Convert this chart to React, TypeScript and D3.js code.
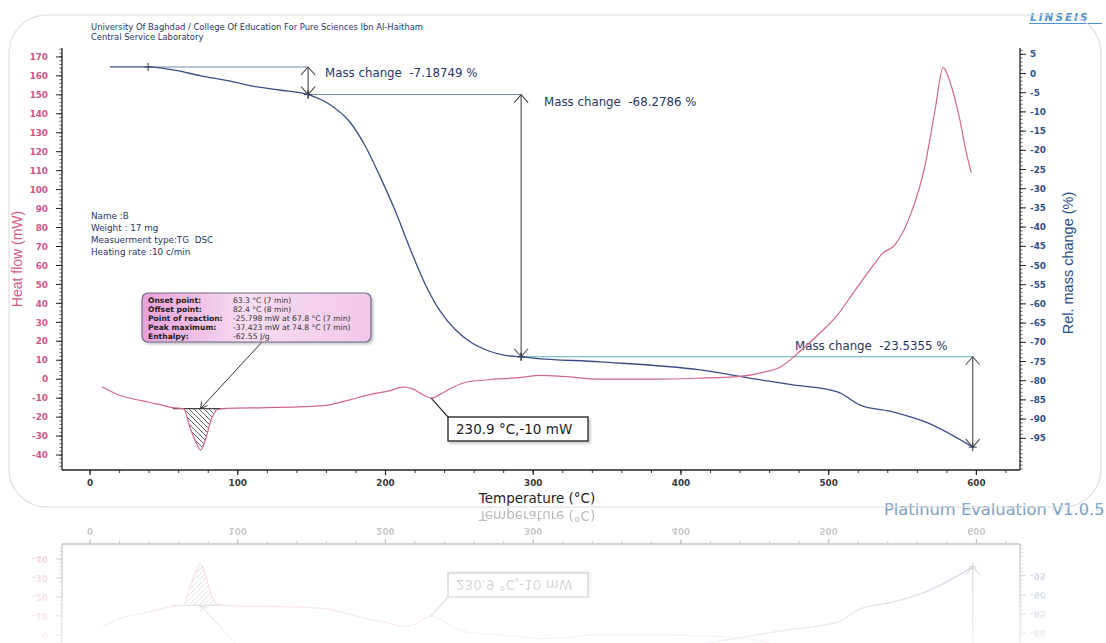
import React from "react";
import * as d3 from "d3";

const W = 1106;
const H = 643;

// DSC heat flow curve: temperature (°C) and heat flow (mW)
const dscTemp = [8, 20, 34, 45, 56, 63.3, 67.8, 71.5, 74.8, 78, 82.4, 86.5, 92, 120, 145, 160, 175, 190, 203, 212, 218, 224, 230.9, 237, 245, 255, 270, 290, 305, 320, 345, 380, 410, 440, 455, 467, 481, 495, 505, 518, 531, 536, 545, 555, 565, 572, 577.5, 582, 589, 593, 596.5];
const dscHeat = [-4, -8.5, -11.2, -13, -15, -15.6, -25.8, -33, -37.4, -32, -20.5, -16, -15.4, -15, -14.5, -13.8, -11, -8, -6, -4.2, -5, -7.5, -10, -8, -4.5, -1.5, -0.3, 0.8, 2, 1.5, 0, 0, 0.5, 1.5, 3.5, 6.3, 15, 25, 33, 47, 61, 66, 71, 86, 112, 142, 164.5, 157, 136, 120, 109];

// TG curve: temperature (°C) and relative mass change (%)
const tgTemp = [13.5, 39.3, 55, 75, 95, 110, 128, 147.6, 162, 176, 186, 196, 206.5, 216.7, 226.8, 237, 247, 257, 271, 281, 291.8, 300, 345, 413, 454, 476, 506, 521, 544, 567, 597.5];
const tgMass = [1.7, 1.7, 1.0, -0.6, -2, -3.3, -4.3, -5.49, -8, -12.7, -18.7, -26.6, -35.7, -45.7, -54.8, -61.9, -66.6, -69.8, -72.4, -73.4, -73.77, -74.1, -75.1, -77.2, -79.8, -81.1, -82.9, -86.3, -88.2, -91, -97.3];

// Mass-loss steps read by the evaluation software
const stepStart = 1.7;
const stepTemps = [39.3, 147.6, 291.8, 597.5];
const stepChanges = [-7.18749, -68.2786, -23.5355];
const stepLabels = ["Mass change  -7.18749 %", "Mass change  -68.2786 %", "Mass change  -23.5355 %"];

// Axis ticks
const tempTicks = [0, 100, 200, 300, 400, 500, 600];
const heatTicks = [-40, -30, -20, -10, 0, 10, 20, 30, 40, 50, 60, 70, 80, 90, 100, 110, 120, 130, 140, 150, 160, 170];
const massTicks = [-95, -90, -85, -80, -75, -70, -65, -60, -55, -50, -45, -40, -35, -30, -25, -20, -15, -10, -5, 0, 5];

// Endothermic peak evaluation
const peakBaseline = -15.5;
const peakRange = [56, 92];
const peakTemp = 74.8;
const peakKeys = ["Onset point:", "Offset point:", "Point of reaction:", "Peak maximum:", "Enthalpy:"];
const peakValues = ["63.3 °C (7 min)", "82.4 °C (8 min)", "-25.798 mW at 67.8 °C (7 min)", "-37.423 mW at 74.8 °C (7 min)", "-62.55 J/g"];

// Marked point on the DSC curve
const pointTemp = 230.9;
const pointHeat = -10;
const pointLabel = "230.9 °C,-10 mW";

const sampleInfo = ["Name :B", "Weight : 17 mg", "Measuerment type:TG  DSC", "Heating rate :10 c/min"];
const headerLines = ["University Of Baghdad / College Of Education For Pure Sciences Ibn Al-Haitham", "Central Service Laboratory"];

const MIRROR_Y = 507;

const PINK = "#d2668c";
const BLUE = "#3b4d85";
const NAVY = "#26365f";

export default function App() {
  const left = 62;
  const right = 1020;
  const top = 48;
  const bottom = 470;

  const x = d3.scaleLinear().domain([-19, 629.5]).range([left, right]);
  const yHeat = d3.scaleLinear().domain([-47.9, 174.7]).range([bottom, top]);
  const yMass = d3.scaleLinear().domain([-103.26, 6.64]).range([bottom, top]);

  const dsc: [number, number][] = dscTemp.map((t, i) => [t, dscHeat[i]]);
  const tg: [number, number][] = tgTemp.map((t, i) => [t, tgMass[i]]);

  const heatLine = d3
    .line<[number, number]>()
    .x((d) => x(d[0]))
    .y((d) => yHeat(d[1]))
    .curve(d3.curveMonotoneX);
  const massLine = d3
    .line<[number, number]>()
    .x((d) => x(d[0]))
    .y((d) => yMass(d[1]))
    .curve(d3.curveMonotoneX);
  const peakArea = d3
    .area<[number, number]>()
    .x((d) => x(d[0]))
    .y0(yHeat(peakBaseline))
    .y1((d) => yHeat(Math.min(d[1], peakBaseline)))
    .curve(d3.curveMonotoneX);
  const peakPts = dsc.filter((d) => d[0] >= peakRange[0] && d[0] <= peakRange[1]);

  const levels = [stepStart];
  stepChanges.forEach((c) => levels.push(levels[levels.length - 1] + c));

  const heatMinor = d3.range(-46, 175, 2);
  const massMinor = d3.range(-103, 7, 1);
  const tempMinor = d3.range(-0, 621, 20);

  const upHead = (cx: number, cy: number) => `M${cx - 7},${cy + 8}L${cx},${cy}L${cx + 7},${cy + 8}`;
  const downHead = (cx: number, cy: number) => `M${cx - 7},${cy - 8}L${cx},${cy}L${cx + 7},${cy - 8}`;
  const plus = (cx: number, cy: number) => `M${cx - 4},${cy}L${cx + 4},${cy}M${cx},${cy - 4}L${cx},${cy + 4}`;

  const boxX = 142, boxY = 293, boxW = 229, boxH = 49;
  const ptX = x(pointTemp), ptY = yHeat(pointHeat);
  const lblX = 448, lblY = 417, lblW = 140, lblH = 24;

  const pre = { whiteSpace: "pre" as const };

  return (
    <svg
      width={W}
      height={H}
      viewBox={`0 0 ${W} ${H}`}
      style={{ position: "absolute", left: 0, top: 0, background: "#fff" }}
      fontFamily="'DejaVu Sans', Verdana, sans-serif"
    >
      <defs>
        <pattern id="hatch" patternUnits="userSpaceOnUse" width="5" height="5">
          <path d="M-1,-1L6,6M-1,4L1,6M4,-1L6,1" stroke="#555" strokeWidth="0.9" />
        </pattern>
        <linearGradient id="boxFill" x1="0" y1="0" x2="1" y2="0">
          <stop offset="0" stopColor="#eaa0da" />
          <stop offset="0.45" stopColor="#f7dcf1" />
          <stop offset="1" stopColor="#f2c8e8" />
        </linearGradient>
        <linearGradient id="platFill" x1="0" y1="0" x2="0" y2="1">
          <stop offset="0" stopColor="#8eaed0" />
          <stop offset="1" stopColor="#6f93bd" />
        </linearGradient>
        <linearGradient id="reflFade" x1="0" y1="0" x2="0" y2="1">
          <stop offset="0" stopColor="#fff" stopOpacity="0.33" />
          <stop offset="1" stopColor="#fff" stopOpacity="0.09" />
        </linearGradient>
        <mask id="reflMask" maskUnits="userSpaceOnUse" x="0" y={MIRROR_Y} width={W} height={H - MIRROR_Y}>
          <rect x="0" y={MIRROR_Y} width={W} height={H - MIRROR_Y} fill="url(#reflFade)" />
        </mask>
        <filter id="soft" x="-10%" y="-10%" width="120%" height="140%">
          <feDropShadow dx="2" dy="2" stdDeviation="1.2" floodColor="#888" floodOpacity="0.45" />
        </filter>
      </defs>

      <rect width={W} height={H} fill="#fff" />

      <g id="chartBody">
        {/* header */}
        {headerLines.map((t, i) => (
          <text key={t} x={91} y={30 + i * 10} fontSize={8.4} fill={NAVY}>
            {t}
          </text>
        ))}
        <text x={1030} y={21} fontSize={10.5} fontWeight="bold" fontStyle="italic" letterSpacing={2} fill="#4f92d2">
          LINSEIS
        </text>
        <line x1={1029} x2={1102} y1={23.5} y2={23.5} stroke="#4f92d2" strokeWidth={1} />

        {/* left axis: heat flow */}
        <line x1={left} x2={left} y1={top} y2={bottom} stroke="#222" strokeWidth={1.3} />
        {heatMinor.map((v) => (
          <line key={"hm" + v} x1={left - 2.5} x2={left} y1={yHeat(v)} y2={yHeat(v)} stroke="#333" strokeWidth={0.8} />
        ))}
        {heatTicks.map((v) => (
          <g key={"h" + v}>
            <line x1={left - 6} x2={left} y1={yHeat(v)} y2={yHeat(v)} stroke="#222" strokeWidth={1} />
            <text x={left - 14} y={yHeat(v) + 3.2} fontSize={8.8} fontWeight="bold" textAnchor="end" fill="#cf5684">
              {v}
            </text>
          </g>
        ))}
        <text
          transform={`translate(22,${(top + bottom) / 2}) rotate(-90)`}
          textAnchor="middle"
          fontSize={14}
          fontFamily="'Liberation Sans Narrow', 'Liberation Sans', sans-serif"
          fill="#d45a86"
        >
          Heat flow (mW)
        </text>

        {/* right axis: relative mass change */}
        <line x1={right} x2={right} y1={top} y2={bottom} stroke="#222" strokeWidth={1.3} />
        {massMinor.map((v) => (
          <line key={"mm" + v} x1={right} x2={right + 2.5} y1={yMass(v)} y2={yMass(v)} stroke="#333" strokeWidth={0.8} />
        ))}
        {massTicks.map((v) => (
          <g key={"m" + v}>
            <line x1={right} x2={right + 6} y1={yMass(v)} y2={yMass(v)} stroke="#222" strokeWidth={1} />
            <text x={right + 10} y={yMass(v) + 3.2} fontSize={8.8} fontWeight="bold" fill="#2d5087">
              {v}
            </text>
          </g>
        ))}
        <text
          transform={`translate(1073,${(top + bottom) / 2 + 4}) rotate(-90)`}
          textAnchor="middle"
          fontSize={14.5}
          fontFamily="'Liberation Sans Narrow', 'Liberation Sans', sans-serif"
          fill="#1f4c88"
        >
          Rel. mass change (%)
        </text>

        {/* bottom axis: temperature */}
        <line x1={left} x2={right} y1={bottom} y2={bottom} stroke="#222" strokeWidth={1.3} />
        {tempMinor.map((v) => (
          <line key={"tm" + v} x1={x(v)} x2={x(v)} y1={bottom} y2={bottom + 3} stroke="#333" strokeWidth={1} />
        ))}
        {tempTicks.map((v) => (
          <g key={"t" + v}>
            <line x1={x(v)} x2={x(v)} y1={bottom} y2={bottom + 5} stroke="#222" strokeWidth={1.2} />
            <text x={x(v)} y={bottom + 16} fontSize={8.8} fontWeight="bold" textAnchor="middle" fill="#3a3a3a">
              {v}
            </text>
          </g>
        ))}
        <text x={537} y={503} fontSize={13.5} textAnchor="middle" fill="#1e1e1e">
          Temperature (°C)
        </text>

        {/* sample info */}
        {sampleInfo.map((t, i) => (
          <text key={t} x={91} y={219 + i * 12} fontSize={8.8} fill={NAVY} style={pre}>
            {t}
          </text>
        ))}

        {/* mass step construction lines */}
        {stepChanges.map((c, i) => {
          const x0 = x(stepTemps[i]);
          const x1 = x(stepTemps[i + 1]);
          const yA = yMass(levels[i]);
          const yB = yMass(levels[i + 1]);
          return (
            <g key={"s" + i}>
              <line x1={x0} x2={x1} y1={yA} y2={yA} stroke={i === 2 ? "#5aaebd" : "#6f8db0"} strokeWidth={1.1} />
              <line x1={x1} x2={x1} y1={yA} y2={yB} stroke="#4a4a4a" strokeWidth={1.1} />
              <path d={upHead(x1, yA)} fill="none" stroke="#4a4a4a" strokeWidth={1.1} />
              <path d={downHead(x1, yB)} fill="none" stroke="#4a4a4a" strokeWidth={1.1} />
              <path d={plus(x0, yA)} fill="none" stroke="#333" strokeWidth={1} />
              <path d={plus(x1, yB)} fill="none" stroke="#333" strokeWidth={1} />
            </g>
          );
        })}
        <text x={325} y={77} fontSize={11.8} fill={NAVY} style={pre}>{stepLabels[0]}</text>
        <text x={544} y={106} fontSize={11.8} fill={NAVY} style={pre}>{stepLabels[1]}</text>
        <text x={795} y={350} fontSize={11.8} fill={NAVY} style={pre}>{stepLabels[2]}</text>

        {/* TG curve */}
        <path d={massLine(tg) ?? ""} fill="none" stroke={BLUE} strokeWidth={1.3} />

        {/* endothermic peak */}
        <path d={peakArea(peakPts) ?? ""} fill="url(#hatch)" stroke="none" />
        <line
          x1={x(peakRange[0])}
          x2={x(peakRange[1])}
          y1={yHeat(peakBaseline)}
          y2={yHeat(peakBaseline)}
          stroke="#444"
          strokeWidth={1.2}
        />

        {/* DSC curve */}
        <path d={heatLine(dsc) ?? ""} fill="none" stroke={PINK} strokeWidth={1.2} />

        {/* peak evaluation box */}
        <line x1={boxX + 120} y1={boxY + boxH} x2={x(peakTemp)} y2={yHeat(peakBaseline)} stroke="#333" strokeWidth={1} />
        <path
          d={`M${x(peakTemp) + 1},${yHeat(peakBaseline) - 7}L${x(peakTemp)},${yHeat(peakBaseline)}L${x(peakTemp) + 7},${yHeat(peakBaseline) - 3}`}
          fill="none"
          stroke="#333"
          strokeWidth={1}
        />
        <rect x={boxX} y={boxY} width={boxW} height={boxH} rx={6} fill="url(#boxFill)" stroke="#6c6c8c" strokeWidth={1.2} filter="url(#soft)" />
        {peakKeys.map((k, i) => (
          <g key={k}>
            <text x={boxX + 6} y={boxY + 10 + i * 9} fontSize={7.6} fontWeight="bold" fill="#222">
              {k}
            </text>
            <text x={boxX + 91} y={boxY + 10 + i * 9} fontSize={7.6} fill="#333">
              {peakValues[i]}
            </text>
          </g>
        ))}

        {/* marked DSC point */}
        <line x1={ptX} y1={ptY} x2={lblX} y2={lblY} stroke="#333" strokeWidth={1.2} />
        <rect x={lblX} y={lblY} width={lblW} height={lblH} fill="#fff" stroke="#2a2a2a" strokeWidth={1.4} filter="url(#soft)" />
        <text x={lblX + 8} y={lblY + 17} fontSize={13.5} fill="#1e1e1e">
          {pointLabel}
        </text>

        <text x={884} y={515} fontSize={16.3} fill="url(#platFill)">
          Platinum Evaluation V1.0.5
        </text>
      </g>

      {/* mirrored reflection below the chart */}
      <g mask="url(#reflMask)">
        <use href="#chartBody" transform={`translate(0,${2 * MIRROR_Y}) scale(1,-1)`} />
      </g>

      {/* rounded frame */}
      <rect x={9} y={15} width={1092} height={492} rx={38} fill="none" stroke="#dedede" strokeWidth={1.2} />
    </svg>
  );
}
